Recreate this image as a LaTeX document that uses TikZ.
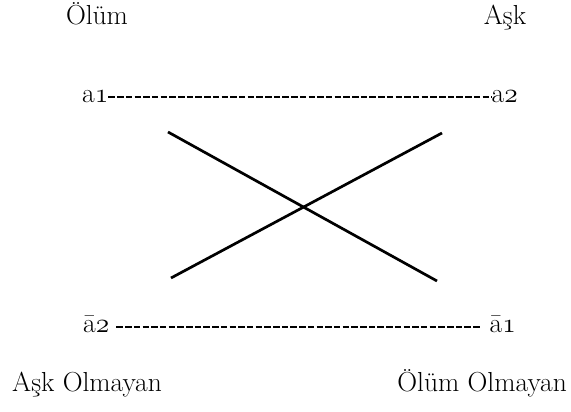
\RequirePackage{fix-cm}
\documentclass[tikz,border=0pt]{standalone}
\usepackage{tikz}
\newcommand{\osn}[1]{{\usefont{OML}{cmm}{m}{it}#1}}
\begin{document}
\begin{tikzpicture}[x=1pt,y=1pt,
  lbl/.style={inner sep=0pt, font=\fontsize{27.5}{33}\selectfont},
  dashline/.style={line width=1.8pt, dash pattern=on 6.5pt off 2.2pt},
  crossline/.style={line width=2.7pt}]
\useasboundingbox (0,0) rectangle (571,412);
\node[lbl, anchor=base] (olum) at (97,387) {Ölüm};
\node[lbl, anchor=base] (ask) at (505,387) {Aşk};
\node[lbl, anchor=base west] (a1) at (82,309) {a\osn{1}};
\node[lbl, anchor=base east] (a2) at (518,309) {a\osn{2}};
\node[lbl, anchor=base west] (b2) at (83,79) {\=a\osn{2}};
\node[lbl, anchor=base east] (b1) at (516,79) {\=a\osn{1}};
\node[lbl, anchor=base west] (askol) at (12,20) {Aşk Olmayan};
\node[lbl, anchor=base east] (olumol) at (567,20) {Ölüm Olmayan};
\draw[dashline] ([yshift=6pt]a1.base east) -- ([yshift=6pt]a2.base west);
\draw[dashline, shorten <=7pt, shorten >=8pt] ([yshift=6pt]b2.base east) -- ([yshift=6pt]b1.base west);
\coordinate (p1) at (168,280);
\coordinate (p2) at (437,131);
\coordinate (q1) at (171,134);
\coordinate (q2) at (442,279);
\draw[crossline] (p1) -- (p2);
\draw[crossline] (q1) -- (q2);
\end{tikzpicture}
\end{document}
